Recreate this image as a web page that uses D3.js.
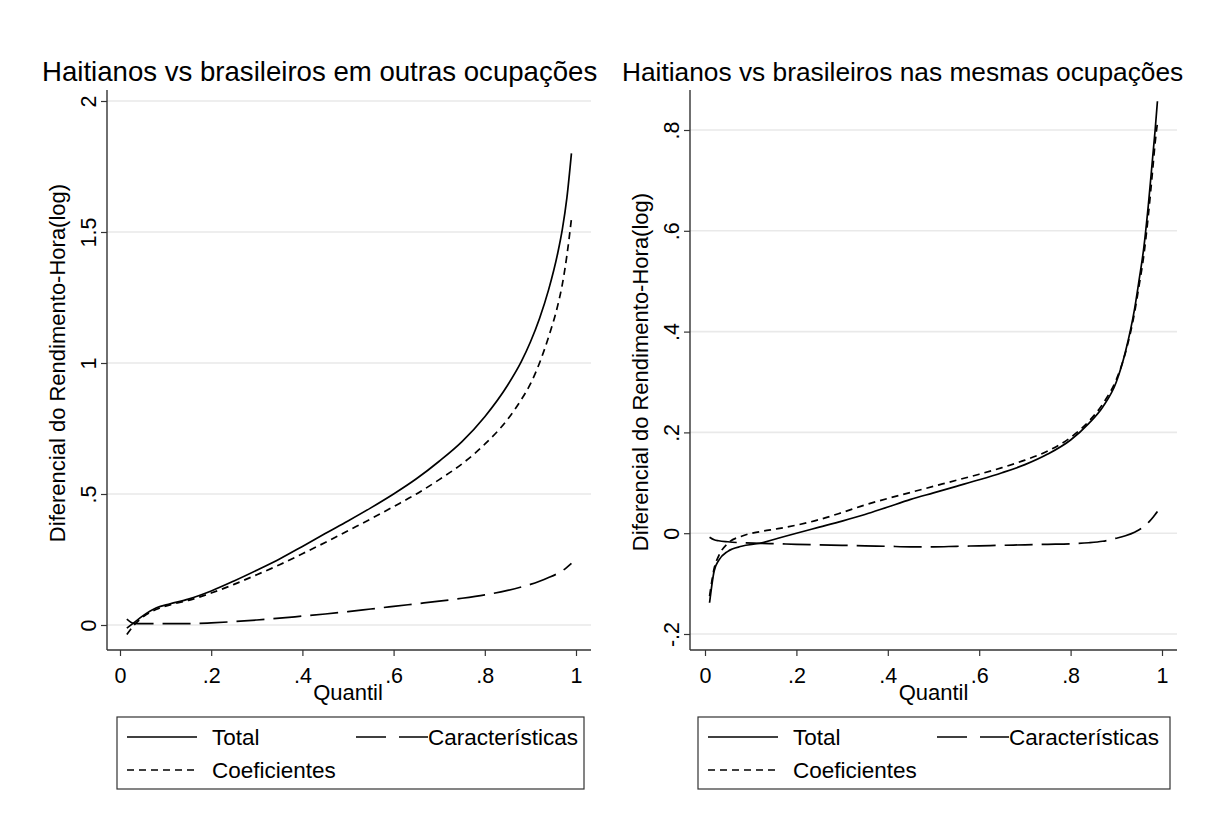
<!DOCTYPE html>
<html>
<head>
<meta charset="utf-8">
<script src="https://cdn.jsdelivr.net/npm/d3@7"></script>
<style>
  html, body { margin: 0; padding: 0; background: #fff; }
  svg { display: block; font-family: "Liberation Sans", Arial, Helvetica, sans-serif; }
</style>
</head>
<body>
<svg id="chart" width="1209" height="835"></svg>
<script>
// ---------- DATA ----------
const titles = ["Haitianos vs brasileiros em outras ocupações", "Haitianos vs brasileiros nas mesmas ocupações"];
const yTitle = "Diferencial do Rendimento-Hora(log)";
const xTitle = "Quantil";
const seriesNames = ["Total", "Características", "Coeficientes"];

const xTicks = [0, 0.2, 0.4, 0.6, 0.8, 1];
const xTickLabels = ["0", ".2", ".4", ".6", ".8", "1"];

const leftYTicks = [0, 0.5, 1, 1.5, 2];
const leftYTickLabels = ["0", ".5", "1", "1.5", "2"];
const rightYTicks = [-0.2, 0, 0.2, 0.4, 0.6, 0.8];
const rightYTickLabels = ["-.2", "0", ".2", ".4", ".6", ".8"];

// Left panel: outras ocupações
const leftQ =     [0.015, 0.03, 0.05, 0.08, 0.11, 0.15, 0.2, 0.25, 0.3, 0.35, 0.4, 0.45, 0.5, 0.55, 0.6, 0.65, 0.7, 0.75, 0.8, 0.85, 0.88, 0.9, 0.92, 0.94, 0.96, 0.97, 0.98, 0.99];
const leftTotal = [-0.012, 0.008, 0.035, 0.066, 0.081, 0.099, 0.13, 0.168, 0.209, 0.252, 0.3, 0.349, 0.397, 0.447, 0.5, 0.558, 0.625, 0.70, 0.795, 0.915, 1.005, 1.08, 1.17, 1.28, 1.42, 1.51, 1.63, 1.80];
const leftChar =  [0.022, 0.006, 0.005, 0.005, 0.005, 0.005, 0.008, 0.013, 0.019, 0.026, 0.034, 0.042, 0.051, 0.061, 0.071, 0.081, 0.091, 0.102, 0.115, 0.132, 0.145, 0.155, 0.167, 0.181, 0.197, 0.207, 0.22, 0.235];
const leftCoef =  [-0.036, -0.002, 0.03, 0.06, 0.077, 0.094, 0.122, 0.155, 0.192, 0.23, 0.272, 0.315, 0.36, 0.405, 0.452, 0.5, 0.555, 0.615, 0.69, 0.785, 0.86, 0.92, 1.0, 1.1, 1.22, 1.3, 1.41, 1.55];

// Right panel: mesmas ocupações
const rightQ =     [0.01, 0.02, 0.03, 0.05, 0.08, 0.12, 0.16, 0.2, 0.25, 0.3, 0.35, 0.4, 0.45, 0.5, 0.55, 0.6, 0.65, 0.7, 0.75, 0.8, 0.84, 0.87, 0.9, 0.92, 0.94, 0.95, 0.96, 0.97, 0.98, 0.985, 0.99];
const rightTotal = [-0.138, -0.075, -0.054, -0.036, -0.026, -0.02, -0.01, 0.0, 0.012, 0.024, 0.037, 0.052, 0.067, 0.08, 0.093, 0.106, 0.12, 0.136, 0.157, 0.185, 0.218, 0.25, 0.30, 0.36, 0.445, 0.503, 0.565, 0.65, 0.75, 0.80, 0.857];
const rightChar =  [-0.008, -0.013, -0.015, -0.017, -0.019, -0.02, -0.021, -0.022, -0.023, -0.024, -0.025, -0.026, -0.027, -0.027, -0.026, -0.025, -0.024, -0.023, -0.022, -0.021, -0.019, -0.016, -0.01, -0.005, 0.002, 0.007, 0.013, 0.021, 0.031, 0.037, 0.043];
const rightCoef =  [-0.125, -0.07, -0.045, -0.02, -0.006, 0.003, 0.009, 0.016, 0.027, 0.041, 0.056, 0.069, 0.081, 0.093, 0.105, 0.117, 0.13, 0.145, 0.163, 0.19, 0.222, 0.256, 0.305, 0.358, 0.438, 0.492, 0.55, 0.63, 0.725, 0.775, 0.814];

// ---------- LAYOUT ----------
const FONT = 22;
const TICKFONT = 21.5;
const dashes = { "Total": null, "Características": "28,9", "Coeficientes": "7,5" };

const panels = [
  {
    title: titles[0], titleX: 42, titleSize: 27.6,
    q: leftQ, series: [leftTotal, leftChar, leftCoef],
    yTicks: leftYTicks, yLabels: leftYTickLabels, yDomain: [0, 2],
    xRange: [120, 576], yRange: [625, 101],
    axisX: 107, axisRight: 591, axisTop: 90, axisBottom: 650,
    yTitleX: 57, yTitleY: 363,
    legend: { x0: 117, x1: 584, y0: 717, y1: 789 }
  },
  {
    title: titles[1], titleX: 622, titleSize: 26.3,
    q: rightQ, series: [rightTotal, rightChar, rightCoef],
    yTicks: rightYTicks, yLabels: rightYTickLabels, yDomain: [-0.2, 0.8],
    xRange: [705, 1162], yRange: [634, 130],
    axisX: 690, axisRight: 1177, axisTop: 90, axisBottom: 650,
    yTitleX: 640, yTitleY: 372,
    legend: { x0: 698, x1: 1170, y0: 717, y1: 789 }
  }
];

const svg = d3.select("#chart");

panels.forEach(p => {
  const g = svg.append("g");
  const x = d3.scaleLinear().domain([0, 1]).range(p.xRange);
  const y = d3.scaleLinear().domain(p.yDomain).range(p.yRange);

  // gridlines
  g.append("g").selectAll("line").data(p.yTicks).join("line")
    .attr("x1", p.axisX).attr("x2", p.axisRight)
    .attr("y1", d => y(d)).attr("y2", d => y(d))
    .attr("stroke", "#e9e9e9").attr("stroke-width", 1.6);

  // y axis
  const yAxis = d3.axisLeft(y).tickValues(p.yTicks).tickSize(6)
    .tickFormat((d, i) => p.yLabels[i]);
  const ya = g.append("g").attr("transform", `translate(${p.axisX},0)`).call(yAxis);
  ya.select(".domain").remove();
  ya.selectAll(".tick line").attr("stroke", "#333").attr("stroke-width", 1.2);
  ya.selectAll(".tick text")
    .attr("x", null).attr("dy", "0.35em")
    .attr("transform", "translate(-19,0) rotate(-90)")
    .attr("text-anchor", "middle")
    .attr("font-size", TICKFONT).attr("fill", "#000")
    .attr("font-family", "Liberation Sans, Arial, sans-serif");

  // x axis
  const xAxis = d3.axisBottom(x).tickValues(xTicks).tickSize(6)
    .tickFormat((d, i) => xTickLabels[i]);
  const xa = g.append("g").attr("transform", `translate(0,${p.axisBottom})`).call(xAxis);
  xa.select(".domain").remove();
  xa.selectAll(".tick line").attr("stroke", "#333").attr("stroke-width", 1.2);
  xa.selectAll(".tick text")
    .attr("y", 18).attr("dy", "0.71em")
    .attr("font-size", TICKFONT).attr("fill", "#000")
    .attr("font-family", "Liberation Sans, Arial, sans-serif");

  // axis lines
  g.append("line").attr("x1", p.axisX).attr("x2", p.axisX)
    .attr("y1", p.axisTop).attr("y2", p.axisBottom)
    .attr("stroke", "#333").attr("stroke-width", 1.4);
  g.append("line").attr("x1", p.axisX).attr("x2", p.axisRight)
    .attr("y1", p.axisBottom).attr("y2", p.axisBottom)
    .attr("stroke", "#333").attr("stroke-width", 1.4);

  // series lines
  const line = d3.line().x(d => x(d[0])).y(d => y(d[1])).curve(d3.curveMonotoneX);
  const order = [1, 2, 0]; // draw Total last
  order.forEach(si => {
    const pts = p.q.map((qv, i) => [qv, p.series[si][i]]);
    g.append("path").datum(pts).attr("d", line)
      .attr("fill", "none").attr("stroke", "#000").attr("stroke-width", 1.7)
      .attr("stroke-dasharray", dashes[seriesNames[si]]);
  });

  // titles
  g.append("text").attr("x", p.titleX).attr("y", 81)
    .attr("font-size", p.titleSize).attr("fill", "#000").text(p.title);
  g.append("text")
    .attr("transform", `translate(${p.yTitleX},${p.yTitleY}) rotate(-90)`)
    .attr("text-anchor", "middle").attr("dy", "0.35em")
    .attr("font-size", FONT).attr("fill", "#000").text(yTitle);
  g.append("text").attr("x", (p.xRange[0] + p.xRange[1]) / 2).attr("y", 700)
    .attr("text-anchor", "middle")
    .attr("font-size", FONT).attr("fill", "#000").text(xTitle);

  // legend
  const L = p.legend;
  const lg = g.append("g");
  lg.append("rect").attr("x", L.x0).attr("y", L.y0)
    .attr("width", L.x1 - L.x0).attr("height", L.y1 - L.y0)
    .attr("fill", "#fff").attr("stroke", "#333").attr("stroke-width", 1.2);
  const items = [
    { name: seriesNames[0], lx: L.x0 + 10, ly: L.y0 + 20, tx: L.x0 + 95 },
    { name: seriesNames[1], lx: L.x0 + 239, ly: L.y0 + 20, tx: L.x0 + 311 },
    { name: seriesNames[2], lx: L.x0 + 10, ly: L.y0 + 53, tx: L.x0 + 95 }
  ];
  items.forEach(it => {
    const len = it.name === "Características" ? 72 : 70;
    lg.append("line").attr("x1", it.lx).attr("x2", it.lx + len)
      .attr("y1", it.ly).attr("y2", it.ly)
      .attr("stroke", "#000").attr("stroke-width", 1.7)
      .attr("stroke-dasharray", it.name === "Características" ? "30,13" : dashes[it.name]);
    lg.append("text").attr("x", it.tx).attr("y", it.ly + 8)
      .attr("font-size", 22.5).attr("fill", "#000").text(it.name);
  });
});
</script>
</body>
</html>
